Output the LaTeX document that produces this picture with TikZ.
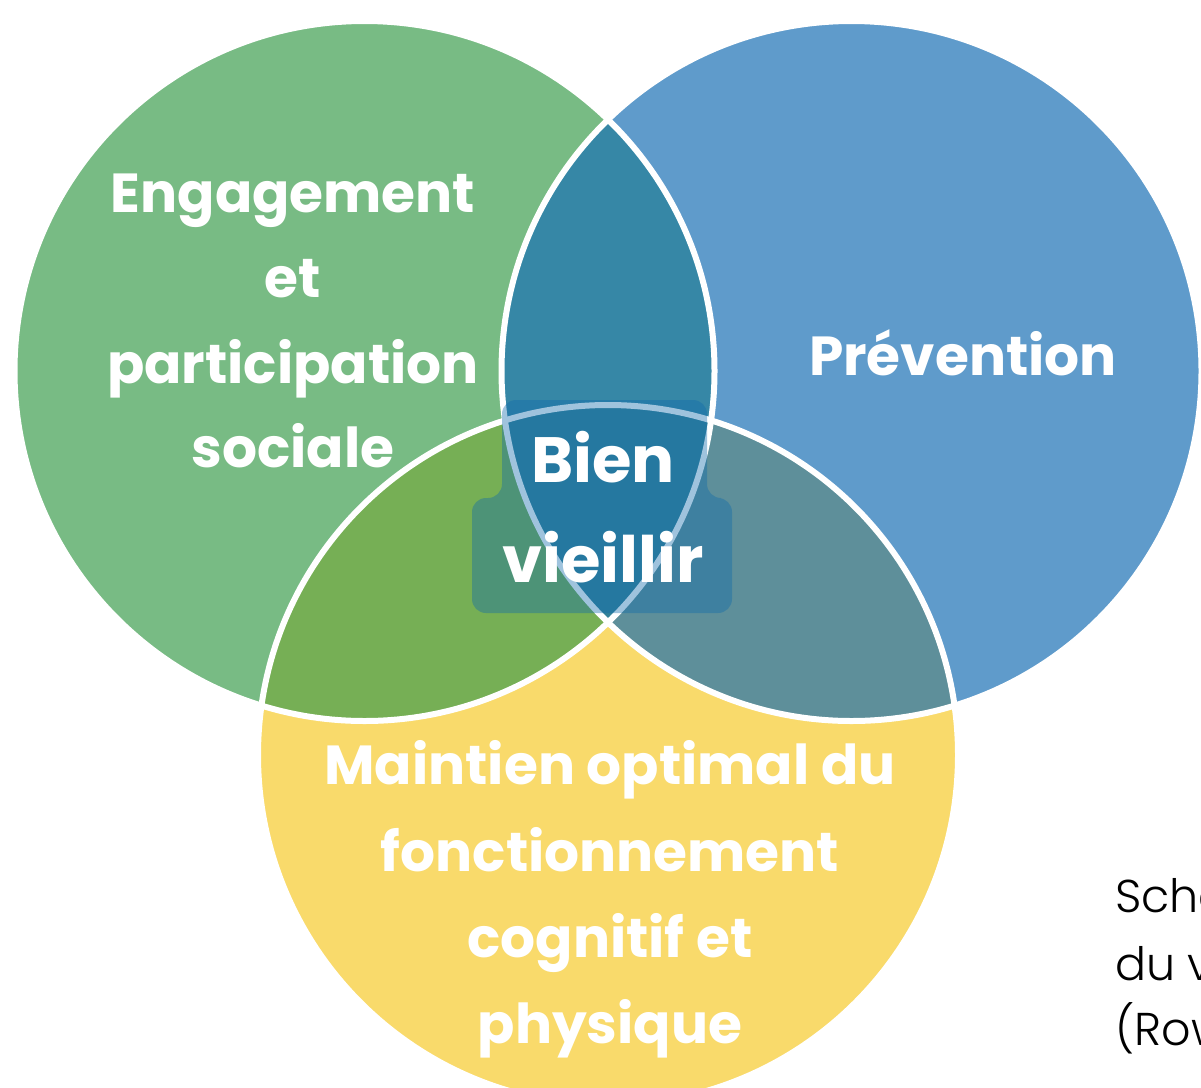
\documentclass[tikz,border=0pt]{standalone}
\usepackage{fontspec}
\newfontfamily\popfont{Poppins}
\newfontfamily\capfont{Poppins Light}
\definecolor{cgreen}{HTML}{78BB84}
\definecolor{cblue}{HTML}{5F9BCB}
\definecolor{cyellow}{HTML}{F9DA6B}
\definecolor{cgb}{HTML}{3687A6}
\definecolor{cgy}{HTML}{76AF55}
\definecolor{cby}{HTML}{5E8F9A}
\definecolor{cmid}{HTML}{338199}
\definecolor{cbox}{RGB}{16,107,171}
\tikzset{
  lbl/.style={text=white, inner sep=0pt, anchor=base, font=\popfont\bfseries\fontsize{55}{66}\selectfont},
  biglbl/.style={lbl, font=\popfont\bfseries\fontsize{64}{76}\selectfont},
  caplbl/.style={text=black, inner sep=0pt, anchor=base west, font=\capfont\fontsize{46}{60}\selectfont},
  rim/.style={draw=white, line width=6pt},
}
\begin{document}
\begin{tikzpicture}[x=1pt, y=-1pt]
\useasboundingbox (0,0) rectangle (1201,1087);
\clip (0,0) rectangle (1201,1087);
\def\R{350}
\coordinate (G) at (364.5,371);
\coordinate (B) at (851.5,371);
\coordinate (Y) at (608,755);
% base discs
\fill[cgreen] (G) circle (\R);
\fill[cblue] (B) circle (\R);
\fill[cyellow] (Y) circle (\R);
% pairwise overlaps
\begin{scope}\clip (G) circle (\R); \fill[cgb] (B) circle (\R); \end{scope}
\begin{scope}\clip (G) circle (\R); \fill[cgy] (Y) circle (\R); \end{scope}
\begin{scope}\clip (B) circle (\R); \fill[cby] (Y) circle (\R); \end{scope}
\begin{scope}\clip (G) circle (\R); \clip (B) circle (\R); \fill[cmid] (Y) circle (\R); \end{scope}
% white rims
\draw[rim] (G) circle (\R);
\draw[rim] (B) circle (\R);
\draw[rim] (Y) circle (\R);
% translucent box behind the centre label
\fill[cbox, opacity=0.4, rounded corners=14pt]
  (502,400) -- (707,400) -- (707,498) -- (732,498) -- (732,613)
  -- (472,613) -- (472,498) -- (502,498) -- cycle;
% labels
\node[lbl] (eng1) at (293,212) {Engagement};
\node[lbl] (eng2) at (293,297) {et};
\node[lbl] (eng3) at (293,383) {participation};
\node[lbl] (eng4) at (293,467) {sociale};
\node[lbl] (prev) at (963,375) {Prévention};
\node[lbl] (mai1) at (610,784) {Maintien optimal du};
\node[lbl] (mai2) at (610,871) {fonctionnement};
\node[lbl] (mai3) at (610,957) {cognitif et};
\node[lbl] (mai4) at (610,1043) {physique};
\node[biglbl] (bien1) at (603,482) {Bien};
\node[biglbl] (bien2) at (603,582) {vieillir};
\node[caplbl] (cap1) at (1115,912) {Schéma};
\node[caplbl] (cap2) at (1115,980) {du vieillissement};
\node[caplbl] (cap3) at (1115,1045) {(Rowe};
\end{tikzpicture}
\end{document}
